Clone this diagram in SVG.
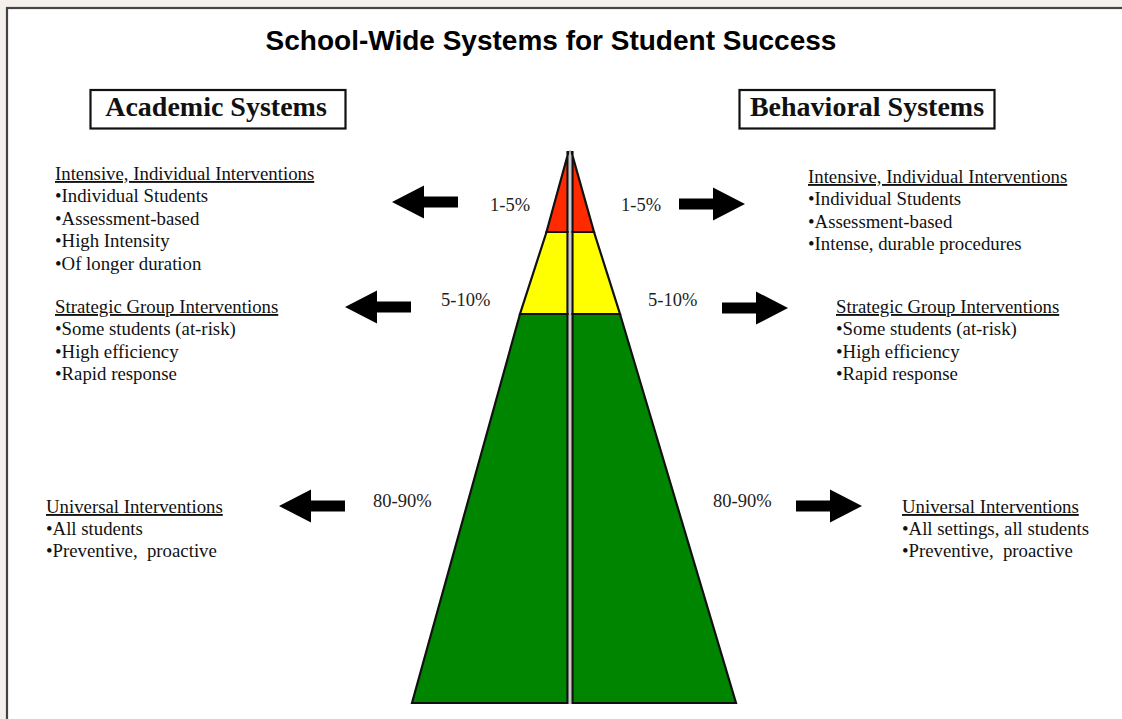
<svg xmlns="http://www.w3.org/2000/svg" width="1122" height="719" viewBox="0 0 1122 719">
<defs>
<style>
.t{font-family:"Liberation Serif","Times New Roman",serif;font-size:18.8px;fill:#111;white-space:pre}
.h{text-decoration:underline}
.pct{font-family:"Liberation Serif","Times New Roman",serif;font-size:18.5px;fill:#222}
.box{fill:#fff;stroke:#111;stroke-width:2.2}
.bt{font-family:"Liberation Serif","Times New Roman",serif;font-size:28px;font-weight:bold;fill:#111}
.tier{stroke:#111;stroke-width:2.2;stroke-linejoin:miter}
.arrow{fill:#000}
</style>
<path id="arr" d="M0,0 L32,-16.5 L32,-5.5 L66,-5.5 L66,5.5 L32,5.5 L32,16.5 Z"/>
</defs>
<rect width="1122" height="719" fill="#f4f1ec"/>
<rect x="7" y="8" width="1130" height="730" fill="#fff" stroke="#444" stroke-width="2.2"/>
<text x="551" y="50" text-anchor="middle" style="font-family:'Liberation Sans',Arial,sans-serif;font-size:28px;font-weight:bold;fill:#000">School-Wide Systems for Student Success</text>

<g id="academic-header">
<rect class="box" x="90.5" y="90" width="255" height="38.5"/>
<text class="bt" x="216" y="115.5" text-anchor="middle">Academic Systems</text>
</g>
<g id="behavioral-header">
<rect class="box" x="739.5" y="90" width="255" height="38.5"/>
<text class="bt" x="867" y="115.5" text-anchor="middle">Behavioral Systems</text>
</g>

<g id="pyramid">
<g id="left-half">
<polygon class="tier" fill="#008500" points="520,314 567.5,314 567.5,703 412,703"/>
<polygon class="tier" fill="#ffff00" points="546.5,232 567.5,232 567.5,314 520,314"/>
<polygon class="tier" fill="#ff2a00" points="568.5,152 567.5,152 567.5,232 546.5,232"/>
</g>
<g id="right-half">
<polygon class="tier" fill="#008500" points="572.5,314 620,314 736,703 572.5,703"/>
<polygon class="tier" fill="#ffff00" points="572.5,232 594,232 620,314 572.5,314"/>
<polygon class="tier" fill="#ff2a00" points="571.5,152 572.5,152 572.5,232 594,232"/>
</g>
<line x1="570" y1="150" x2="570" y2="704" stroke="#bbb" stroke-width="1.5"/>
</g>

<g id="percent-labels">
<text class="pct" x="490" y="211">1-5%</text>
<text class="pct" x="621" y="211">1-5%</text>
<text class="pct" x="441" y="306">5-10%</text>
<text class="pct" x="648" y="306">5-10%</text>
<text class="pct" x="373" y="507">80-90%</text>
<text class="pct" x="713" y="507">80-90%</text>
</g>

<g id="connectors">
<use href="#arr" class="arrow" transform="translate(392,202)"/>
<use href="#arr" class="arrow" transform="translate(745,204) scale(-1,1)"/>
<use href="#arr" class="arrow" transform="translate(345,307)"/>
<use href="#arr" class="arrow" transform="translate(788,308) scale(-1,1)"/>
<use href="#arr" class="arrow" transform="translate(279,506)"/>
<use href="#arr" class="arrow" transform="translate(862,506) scale(-1,1)"/>
</g>

<g id="acad-intensive">
<text class="t h" x="55" y="180">Intensive, Individual Interventions</text>
<text class="t" x="55" y="202">•Individual Students</text>
<text class="t" x="55" y="224.5">•Assessment-based</text>
<text class="t" x="55" y="247">•High Intensity</text>
<text class="t" x="55" y="269.5">•Of longer duration</text>
</g>
<g id="acad-strategic">
<text class="t h" x="55" y="313">Strategic Group Interventions</text>
<text class="t" x="55" y="335">•Some students (at-risk)</text>
<text class="t" x="55" y="357.5">•High efficiency</text>
<text class="t" x="55" y="380">•Rapid response</text>
</g>
<g id="acad-universal">
<text class="t h" x="46" y="513">Universal Interventions</text>
<text class="t" x="46" y="535">•All students</text>
<text class="t" x="46" y="557" xml:space="preserve">•Preventive,  proactive</text>
</g>
<g id="beh-intensive">
<text class="t h" x="808" y="183">Intensive, Individual Interventions</text>
<text class="t" x="808" y="205">•Individual Students</text>
<text class="t" x="808" y="227.5">•Assessment-based</text>
<text class="t" x="808" y="250">•Intense, durable procedures</text>
</g>
<g id="beh-strategic">
<text class="t h" x="836" y="313">Strategic Group Interventions</text>
<text class="t" x="836" y="335">•Some students (at-risk)</text>
<text class="t" x="836" y="357.5">•High efficiency</text>
<text class="t" x="836" y="380">•Rapid response</text>
</g>
<g id="beh-universal">
<text class="t h" x="902" y="513">Universal Interventions</text>
<text class="t" x="902" y="535">•All settings, all students</text>
<text class="t" x="902" y="557" xml:space="preserve">•Preventive,  proactive</text>
</g>
</svg>
